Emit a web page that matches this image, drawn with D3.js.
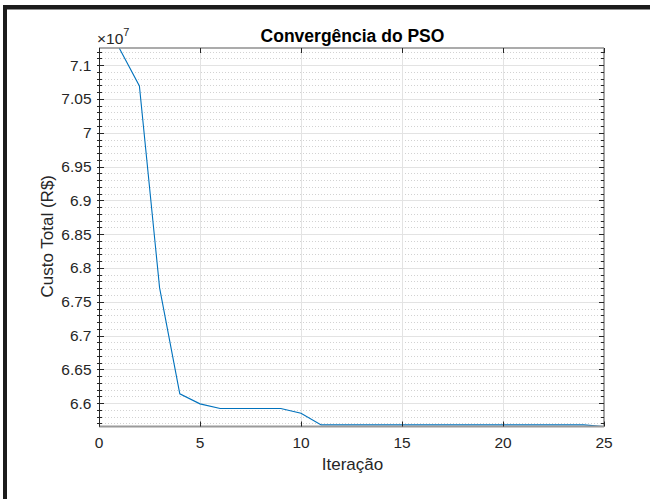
<!DOCTYPE html>
<html>
<head>
<meta charset="utf-8">
<script src="https://cdn.jsdelivr.net/npm/d3@7"></script>
<style>
  html, body { margin: 0; padding: 0; background: #ffffff; }
  svg { display: block; font-family: "Liberation Sans", Arial, Helvetica, sans-serif; }
</style>
</head>
<body>
<svg id="chart" width="650" height="499"></svg>
<script>
// Best cost per PSO iteration (R$)
const iterations = d3.range(1, 26);
const bestCost = [
  71254000, 70692000, 67705000, 66138000, 65990000,
  65922000, 65922000, 65922000, 65922000, 65852000,
  65679000, 65679000, 65679000, 65679000, 65679000,
  65679000, 65679000, 65679000, 65679000, 65679000,
  65679000, 65679000, 65679000, 65679000, 65655000
];
const xTicks = [0, 5, 10, 15, 20, 25];
const yTicks = [6.6, 6.65, 6.7, 6.75, 6.8, 6.85, 6.9, 6.95, 7, 7.05, 7.1]; // ×10^7
const yTickLabels = ["6.6", "6.65", "6.7", "6.75", "6.8", "6.85", "6.9", "6.95", "7", "7.05", "7.1"];
const yMinorStep = 0.01;
const exponent = 7;

const titleText = "Convergência do PSO";
const xLabel = "Iteração";
const yLabel = "Custo Total (R$)";

const svg = d3.select("#chart");
const W = 650, H = 499;
const plot = { left: 99, right: 604, top: 48, bottom: 426.5 };

svg.append("rect").attr("width", W).attr("height", H).attr("fill", "#ffffff");

// window frame edges
svg.append("rect").attr("x", 3).attr("y", 5).attr("width", W - 3).attr("height", 4.5).attr("fill", "#1c1c1c");
svg.append("rect").attr("x", 3).attr("y", 5).attr("width", 4).attr("height", H - 5).attr("fill", "#1c1c1c");

const scaled = bestCost.map(v => v / Math.pow(10, exponent));
const x = d3.scaleLinear().domain([0, 25]).range([plot.left, plot.right]);
const y = d3.scaleLinear().domain(d3.extent(scaled)).range([plot.bottom, plot.top]);

const g = svg.append("g");

// minor horizontal grid (dotted)
const [y0, y1] = y.domain();
const minorTicks = d3.range(Math.ceil(y0 / yMinorStep) * yMinorStep, y1 + 1e-9, yMinorStep)
  .map(v => +v.toFixed(4))
  .filter(v => !yTicks.some(t => Math.abs(t - v) < 1e-6));
g.append("g").selectAll("line").data(minorTicks).join("line")
  .attr("x1", plot.left).attr("x2", plot.right)
  .attr("y1", d => Math.round(y(d)) + 0.5).attr("y2", d => Math.round(y(d)) + 0.5)
  .attr("stroke", "#d2d2d2").attr("stroke-width", 1).attr("stroke-dasharray", "1,2");

// major grid
g.append("g").selectAll("line").data(yTicks).join("line")
  .attr("x1", plot.left).attr("x2", plot.right)
  .attr("y1", d => Math.round(y(d)) + 0.5).attr("y2", d => Math.round(y(d)) + 0.5)
  .attr("stroke", "#e3e3e3").attr("stroke-width", 1);
g.append("g").selectAll("line").data(xTicks.slice(1, -1)).join("line")
  .attr("x1", d => Math.round(x(d)) + 0.5).attr("x2", d => Math.round(x(d)) + 0.5)
  .attr("y1", plot.top).attr("y2", plot.bottom)
  .attr("stroke", "#e3e3e3").attr("stroke-width", 1);

// data line
const line = d3.line().x((d, i) => x(iterations[i])).y(d => y(d));
g.append("path").datum(scaled)
  .attr("d", line).attr("fill", "none")
  .attr("stroke", "#0072BD").attr("stroke-width", 1.1);

// axes box
const axisCol = "#262626";
g.append("line").attr("x1", plot.left).attr("x2", plot.right).attr("y1", plot.top).attr("y2", plot.top)
  .attr("stroke", "#8f8f8f").attr("stroke-width", 1.3);
g.append("line").attr("x1", plot.left).attr("x2", plot.right).attr("y1", plot.bottom).attr("y2", plot.bottom)
  .attr("stroke", "#9a9a9a").attr("stroke-width", 2);
g.append("line").attr("x1", plot.right).attr("x2", plot.right).attr("y1", plot.top).attr("y2", plot.bottom)
  .attr("stroke", "#8f8f8f").attr("stroke-width", 1.6);
g.append("line").attr("x1", plot.left + 0.5).attr("x2", plot.left + 0.5).attr("y1", plot.top).attr("y2", plot.bottom)
  .attr("stroke", axisCol).attr("stroke-width", 1);

// tick marks (inward)
const tickG = g.append("g").attr("stroke", axisCol).attr("stroke-width", 1);
xTicks.forEach(t => {
  const px = Math.round(x(t)) + 0.5;
  tickG.append("line").attr("x1", px).attr("x2", px).attr("y1", plot.bottom).attr("y2", plot.bottom - 5);
  tickG.append("line").attr("x1", px).attr("x2", px).attr("y1", plot.top).attr("y2", plot.top + 5);
});
yTicks.forEach(t => {
  const py = Math.round(y(t)) + 0.5;
  tickG.append("line").attr("x1", plot.left - 2).attr("x2", plot.left + 5).attr("y1", py).attr("y2", py);
  tickG.append("line").attr("x1", plot.right).attr("x2", plot.right - 5).attr("y1", py).attr("y2", py);
});
minorTicks.forEach(t => {
  const py = Math.round(y(t)) + 0.5;
  tickG.append("line").attr("x1", plot.left - 2).attr("x2", plot.left + 3).attr("y1", py).attr("y2", py);
  tickG.append("line").attr("x1", plot.right).attr("x2", plot.right - 3).attr("y1", py).attr("y2", py);
});

// tick labels
const textCol = "#262626";
g.append("g").selectAll("text").data(xTicks).join("text")
  .attr("x", d => x(d)).attr("y", 447.5)
  .attr("text-anchor", "middle").attr("font-size", 15.5).attr("fill", textCol)
  .text(d => d);
g.append("g").selectAll("text").data(yTicks).join("text")
  .attr("x", 91.5).attr("y", d => y(d) + 5.5)
  .attr("text-anchor", "end").attr("font-size", 15.5).attr("fill", textCol)
  .text((d, i) => yTickLabels[i]);

// exponent label
const expText = svg.append("text").attr("x", 97).attr("y", 44).attr("font-size", 15.5).attr("fill", textCol);
expText.append("tspan").text("×10");
expText.append("tspan").attr("dy", -8).attr("font-size", 11).text(exponent);

// title and axis labels
svg.append("text").attr("x", (plot.left + plot.right) / 2 + 1).attr("y", 41.5)
  .attr("text-anchor", "middle").attr("font-size", 17.5).attr("font-weight", "bold").attr("fill", "#000")
  .text(titleText);
svg.append("text").attr("x", (plot.left + plot.right) / 2 + 1).attr("y", 469.5)
  .attr("text-anchor", "middle").attr("font-size", 17).attr("fill", textCol)
  .text(xLabel);
svg.append("text")
  .attr("transform", `translate(53, ${(plot.top + plot.bottom) / 2 - 1}) rotate(-90)`)
  .attr("text-anchor", "middle").attr("font-size", 17).attr("fill", textCol)
  .text(yLabel);
</script>
</body>
</html>
